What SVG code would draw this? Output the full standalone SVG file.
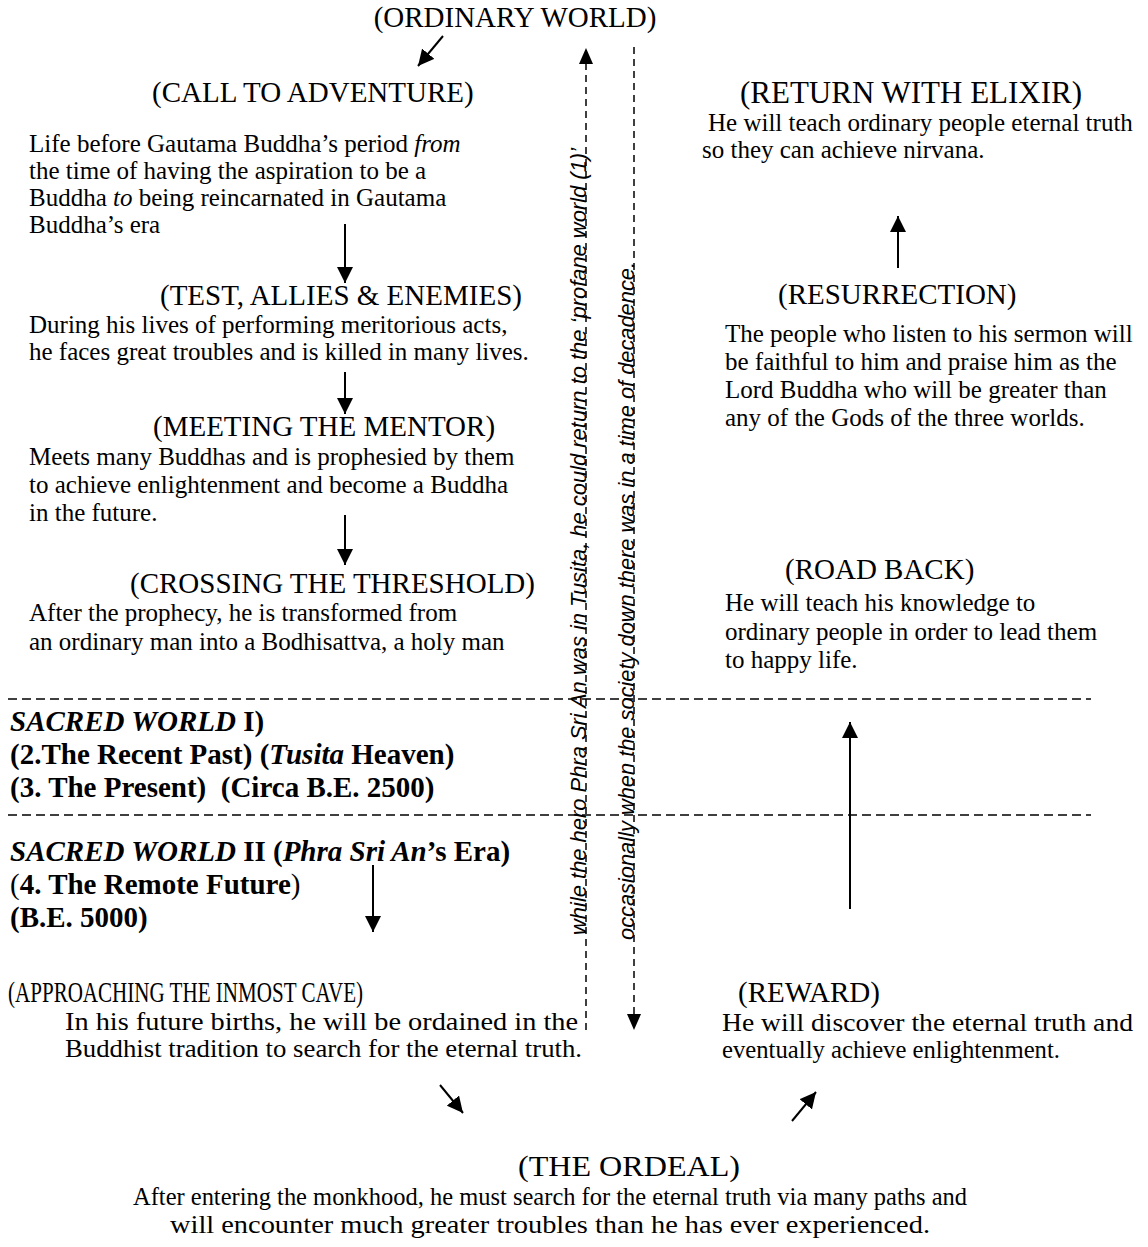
<svg xmlns="http://www.w3.org/2000/svg" width="1148" height="1247" viewBox="0 0 1148 1247">
<style>
text{font-family:"Liberation Serif","Times New Roman",serif;fill:#000}
.ti{font-size:29px}
.bd{font-size:25px}
.bb{font-size:29px;font-weight:bold}
.it{font-style:italic}
.bt{font-size:30px}
.bb2{font-size:26px}
.vt{font-family:"Liberation Sans",Arial,sans-serif;font-style:italic;font-size:22px}
.sl{stroke:#000;stroke-width:2;fill:none}
.hd{stroke:#000;stroke-width:1.5;stroke-dasharray:9 5;fill:none}
.vd{stroke:#000;stroke-width:1.5;stroke-dasharray:7 5;fill:none}
</style>
<defs>
<marker id="ah" viewBox="0 0 16 16" refX="16" refY="8" markerWidth="16" markerHeight="16" markerUnits="userSpaceOnUse" orient="auto"><path d="M0,0 L16,8 L0,16 z" fill="#000"/></marker>
<marker id="ahd" viewBox="0 0 16 14" refX="16" refY="7" markerWidth="16" markerHeight="14" markerUnits="userSpaceOnUse" orient="auto"><path d="M0,0 L16,7 L0,14 z" fill="#000"/></marker>
</defs>
<rect width="1148" height="1247" fill="#fff"/>

<g id="connectors">
<line class="hd" x1="8" y1="699" x2="1091" y2="699"/>
<line class="hd" x1="8" y1="815" x2="1091" y2="815"/>
<line class="vd" x1="586" y1="1030" x2="586" y2="48" marker-end="url(#ahd)"/>
<line class="vd" x1="634" y1="47" x2="634" y2="1030" marker-end="url(#ahd)"/>
<line class="sl" x1="443" y1="36" x2="418" y2="66" marker-end="url(#ah)"/>
<line class="sl" x1="345" y1="224" x2="345" y2="283" marker-end="url(#ah)"/>
<line class="sl" x1="345" y1="372" x2="345" y2="414" marker-end="url(#ah)"/>
<line class="sl" x1="345" y1="515" x2="345" y2="565" marker-end="url(#ah)"/>
<line class="sl" x1="373" y1="865" x2="373" y2="932" marker-end="url(#ah)"/>
<line class="sl" x1="440" y1="1085" x2="463" y2="1113" marker-end="url(#ah)"/>
<line class="sl" x1="792" y1="1121" x2="816" y2="1092" marker-end="url(#ah)"/>
<line class="sl" x1="850" y1="909" x2="850" y2="722" marker-end="url(#ah)"/>
<line class="sl" x1="898" y1="268" x2="898" y2="216" marker-end="url(#ah)"/>
</g>

<g id="vertical-notes">
<text class="vt" transform="translate(586,935) rotate(-90)" textLength="787" lengthAdjust="spacingAndGlyphs">while the hero Phra Sri An was in Tusita, he could return to the ‘profane world (1)’</text>
<text class="vt" transform="translate(634,940) rotate(-90)" textLength="678" lengthAdjust="spacingAndGlyphs">occasionally when the society down there was in a time of decadence.</text>
</g>

<g id="ordinary-world">
<text class="ti" x="515" y="27" text-anchor="middle">(ORDINARY WORLD)</text>
</g>

<g id="call-to-adventure">
<text class="ti" x="152" y="102">(CALL TO ADVENTURE)</text>
<text class="bd" x="29" y="152">Life before Gautama Buddha’s period <tspan class="it">from</tspan></text>
<text class="bd" x="29" y="179">the time of having the aspiration to be a</text>
<text class="bd" x="29" y="206">Buddha <tspan class="it">to</tspan> being reincarnated in Gautama</text>
<text class="bd" x="29" y="233">Buddha’s era</text>
</g>

<g id="test-allies-enemies">
<text class="ti" x="160" y="305">(TEST, ALLIES &amp; ENEMIES)</text>
<text class="bd" x="29" y="333">During his lives of performing meritorious acts,</text>
<text class="bd" x="29" y="360">he faces great troubles and is killed in many lives.</text>
</g>

<g id="meeting-the-mentor">
<text class="ti" x="153" y="436">(MEETING THE MENTOR)</text>
<text class="bd" x="29" y="465">Meets many Buddhas and is prophesied by them</text>
<text class="bd" x="29" y="493">to achieve enlightenment and become a Buddha</text>
<text class="bd" x="29" y="521">in the future.</text>
</g>

<g id="crossing-the-threshold">
<text class="ti" x="130" y="593">(CROSSING THE THRESHOLD)</text>
<text class="bd" x="29" y="621">After the prophecy, he is transformed from</text>
<text class="bd" x="29" y="650">an ordinary man into a Bodhisattva, a holy man</text>
</g>

<g id="sacred-world-1">
<text class="bb" x="10" y="731"><tspan class="it">SACRED WORLD</tspan> I)</text>
<text class="bb" x="10" y="764">(2.The Recent Past) (<tspan class="it">Tusita</tspan> Heaven)</text>
<text class="bb" x="10" y="797" xml:space="preserve">(3. The Present)  (Circa B.E. 2500)</text>
</g>

<g id="sacred-world-2">
<text class="bb" x="10" y="861"><tspan class="it">SACRED WORLD</tspan> II (<tspan class="it">Phra Sri An</tspan>’s Era)</text>
<text class="bb" x="10" y="894"><tspan font-weight="normal">(</tspan>4. The Remote Future<tspan font-weight="normal">)</tspan></text>
<text class="bb" x="10" y="927">(B.E. 5000)</text>
</g>

<g id="approaching-inmost-cave">
<text class="bt" x="8" y="1002" textLength="355" lengthAdjust="spacingAndGlyphs">(APPROACHING THE INMOST CAVE)</text>
<text class="bb2" x="65" y="1030" textLength="513" lengthAdjust="spacingAndGlyphs">In his future births, he will be ordained in the</text>
<text class="bb2" x="65" y="1057" textLength="517" lengthAdjust="spacingAndGlyphs">Buddhist tradition to search for the eternal truth.</text>
</g>

<g id="the-ordeal">
<text class="bt" x="518" y="1176" textLength="222" lengthAdjust="spacingAndGlyphs">(THE ORDEAL)</text>
<text class="bb2" x="133" y="1205" textLength="834" lengthAdjust="spacingAndGlyphs">After entering the monkhood, he must search for the eternal truth via many paths and</text>
<text class="bb2" x="170" y="1233" textLength="760" lengthAdjust="spacingAndGlyphs">will encounter much greater troubles than he has ever experienced.</text>
</g>

<g id="reward">
<text class="bt" x="738" y="1002" textLength="142" lengthAdjust="spacingAndGlyphs">(REWARD)</text>
<text class="bb2" x="722" y="1031" textLength="411" lengthAdjust="spacingAndGlyphs">He will discover the eternal truth and</text>
<text class="bb2" x="722" y="1058" textLength="338" lengthAdjust="spacingAndGlyphs">eventually achieve enlightenment.</text>
</g>

<g id="road-back">
<text class="ti" x="785" y="579">(ROAD BACK)</text>
<text class="bd" x="725" y="611">He will teach his knowledge to</text>
<text class="bd" x="725" y="640">ordinary people in order to lead them</text>
<text class="bd" x="725" y="668">to happy life.</text>
</g>

<g id="resurrection">
<text class="ti" x="778" y="304">(RESURRECTION)</text>
<text class="bd" x="725" y="342">The people who listen to his sermon will</text>
<text class="bd" x="725" y="370">be faithful to him and praise him as the</text>
<text class="bd" x="725" y="398">Lord Buddha who will be greater than</text>
<text class="bd" x="725" y="426">any of the Gods of the three worlds.</text>
</g>

<g id="return-with-elixir">
<text class="ti" x="740" y="103" style="font-size:31px">(RETURN WITH ELIXIR)</text>
<text class="bd" x="708" y="131">He will teach ordinary people eternal truth</text>
<text class="bd" x="702" y="158">so they can achieve nirvana.</text>
</g>
</svg>
